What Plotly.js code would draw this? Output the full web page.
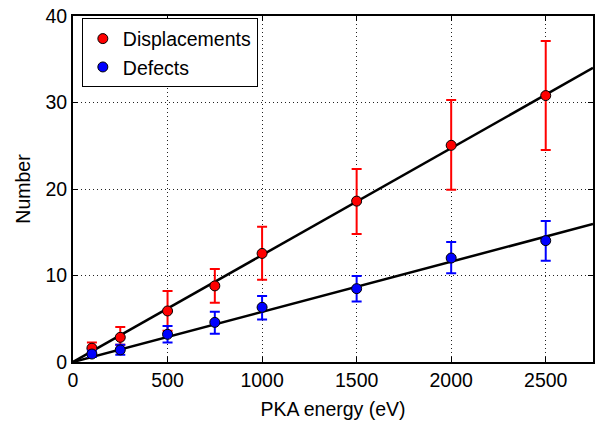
<!DOCTYPE html>
<html>
<head>
<meta charset="utf-8">
<script src="https://cdn.plot.ly/plotly-3.0.1.min.js"></script>
<style>html,body{margin:0;padding:0;background:#fff;}#chart{width:596px;height:427px;}</style>
</head>
<body>
<div id="chart"></div>
<script>
const energy = [100, 250, 500, 750, 1000, 1500, 2000, 2500];
const dispValues = [1.6, 2.85, 5.9, 8.8, 12.55, 18.6, 25.05, 30.8];
const dispUpper = [2.25, 4.05, 8.2, 10.75, 15.65, 22.3, 30.3, 37.1];
const dispLower = [1.0, 2.0, 3.6, 6.85, 9.5, 14.8, 19.9, 24.5];
const defValues = [0.92, 1.4, 3.2, 4.58, 6.32, 8.48, 12.02, 14.03];
const defUpper = [1.3, 2.0, 4.15, 5.82, 7.63, 9.94, 13.87, 16.3];
const defLower = [0.58, 0.85, 2.24, 3.28, 4.9, 6.98, 10.25, 11.71];
const fitX = [0, 2750];
const fitDisp = [0, 34.0];
const fitDef = [0, 15.95];
const xTicks = [0, 500, 1000, 1500, 2000, 2500];
const yTicks = [0, 10, 20, 30, 40];

const plus = (u, v) => u.map((x, i) => x - v[i]);
const minus = (l, v) => v.map((x, i) => x - l[i]);

const font = {family: 'Liberation Sans, Arial, sans-serif', size: 19.5, color: '#000'};

const traces = [
  {x: fitX, y: fitDisp, mode: 'lines', line: {color: '#000', width: 2.5}, showlegend: false, hoverinfo: 'skip'},
  {x: fitX, y: fitDef, mode: 'lines', line: {color: '#000', width: 2.5}, showlegend: false, hoverinfo: 'skip'},
  {x: energy, y: dispValues, mode: 'markers', name: 'Displacements',
   marker: {color: '#ff0000', size: 10, line: {color: '#000', width: 1}},
   error_y: {type: 'data', symmetric: false, array: plus(dispUpper, dispValues), arrayminus: minus(dispLower, dispValues), color: '#ff0000', thickness: 2, width: 5}},
  {x: energy, y: defValues, mode: 'markers', name: 'Defects',
   marker: {color: '#0000ff', size: 10, line: {color: '#000', width: 1}},
   error_y: {type: 'data', symmetric: false, array: plus(defUpper, defValues), arrayminus: minus(defLower, defValues), color: '#0000ff', thickness: 2, width: 5}}
];

const axisCommon = {
  showline: true, linecolor: '#000', linewidth: 2, mirror: 'ticks',
  ticks: 'inside', ticklen: 5, tickwidth: 1, tickcolor: '#000',
  showgrid: true, gridcolor: '#222', gridwidth: 1, griddash: '1px,3px',
  zeroline: false, tickfont: font
};

const layout = {
  width: 596, height: 427,
  margin: {l: 73, r: 3, t: 16, b: 65},
  paper_bgcolor: '#fff', plot_bgcolor: '#fff',
  font: font,
  xaxis: Object.assign({}, axisCommon, {range: [0, 2750], tickvals: xTicks, ticktext: xTicks.map(String),
    title: {text: 'PKA energy (eV)', font: font, standoff: 12}}),
  yaxis: Object.assign({}, axisCommon, {range: [0, 40], tickvals: yTicks, ticktext: yTicks.map(String),
    title: {text: 'Number', font: font, standoff: 10}}),
  legend: {x: 0.017, y: 0.993, xanchor: 'left', yanchor: 'top', bgcolor: '#fff', bordercolor: '#000', borderwidth: 1, font: font, tracegroupgap: 0, itemwidth: 30}
};

Plotly.newPlot('chart', traces, layout, {displayModeBar: false, staticPlot: true});
</script>
</body>
</html>
